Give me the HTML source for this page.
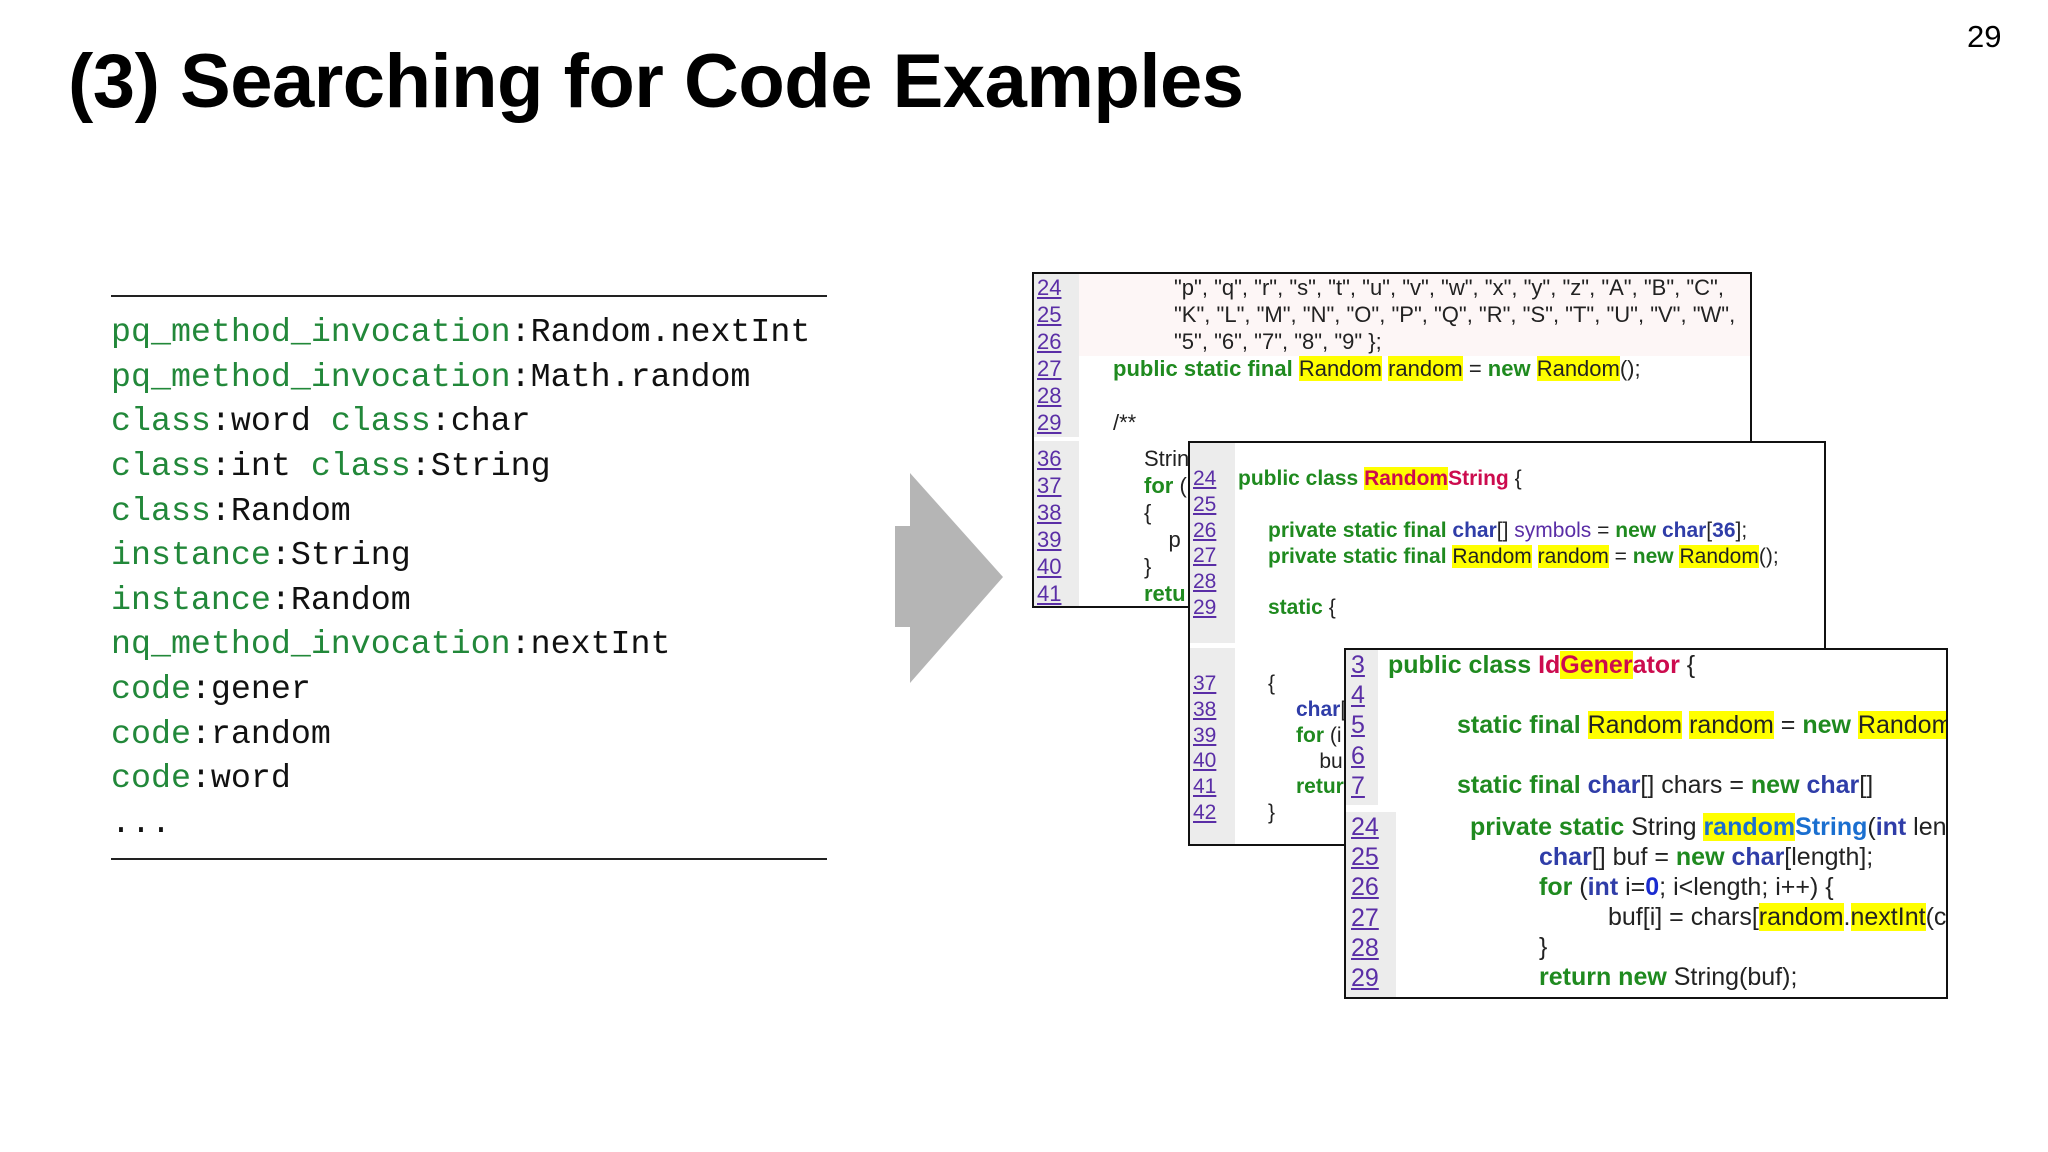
<!DOCTYPE html>
<html><head><meta charset="utf-8"><style>
*{margin:0;padding:0;box-sizing:border-box}
body{width:2048px;height:1152px;background:#fff;position:relative;overflow:hidden;font-family:"Liberation Sans",sans-serif}
.a{position:absolute;white-space:pre}
.title{left:68px;top:32px;font-size:76px;font-weight:bold;line-height:100px;color:#000;letter-spacing:-0.5px}
.pn{left:1967px;top:17px;font-size:31px;line-height:40px}
.hr{position:absolute;left:111px;width:716px;height:2px;background:#222}
.q{position:absolute;left:111px;font-family:"Liberation Mono",monospace;font-size:33.3px;line-height:44px;color:#111;white-space:pre}
.q b{font-weight:normal;color:#22883a}
.box{position:absolute;border:2px solid #111;background:#fff;overflow:hidden}
.gut{position:absolute;left:0;top:0;background:#ececec}
.ln{position:absolute;color:#5a2ea6;text-decoration:underline;white-space:pre}
.c{position:absolute;white-space:pre;color:#222}
.k{color:#1f8a1f;font-weight:bold}
.t{color:#2f3da8;font-weight:bold}
.h{background:#ffff00}
.r{color:#cc0b4e;font-weight:bold}
</style></head><body>
<div class="a title">(3) Searching for Code Examples</div>
<div class="a pn">29</div>

<div class="hr" style="top:295px"></div>
<div class="hr" style="top:858px"></div>
<div class="q" style="top:310px"><b>pq_method_invocation</b>:Random.nextInt</div>
<div class="q" style="top:355px"><b>pq_method_invocation</b>:Math.random</div>
<div class="q" style="top:399px"><b>class</b>:word <b>class</b>:char</div>
<div class="q" style="top:444px"><b>class</b>:int <b>class</b>:String</div>
<div class="q" style="top:489px"><b>class</b>:Random</div>
<div class="q" style="top:533px"><b>instance</b>:String</div>
<div class="q" style="top:578px"><b>instance</b>:Random</div>
<div class="q" style="top:622px"><b>nq_method_invocation</b>:nextInt</div>
<div class="q" style="top:667px"><b>code</b>:gener</div>
<div class="q" style="top:712px"><b>code</b>:random</div>
<div class="q" style="top:756px"><b>code</b>:word</div>
<div class="q" style="top:801px">...</div>

<svg style="position:absolute;left:0;top:0" width="2048" height="1152">
<rect x="895" y="526" width="22" height="101" fill="#b5b5b5"/>
<polygon points="910,473 1003,577 910,683" fill="#b5b5b5"/>
</svg>

<!-- Box 1 -->
<div class="box" style="left:1032px;top:272px;width:720px;height:336px;font-size:22px;line-height:27px">
 <div class="gut" style="width:45px;height:332px"></div>
 <div style="position:absolute;left:45px;top:0;width:675px;height:82px;background:#fdf6f6"></div>
 <div style="position:absolute;left:0;top:163px;width:720px;height:4px;background:#fff"></div>
 <div class="ln" style="left:3px;top:0px">24
25
26
27
28
29</div>
 <div class="ln" style="left:3px;top:171px">36
37
38
39
40
41</div>
 <div class="c" style="left:140px;top:0px">"p", "q", "r", "s", "t", "u", "v", "w", "x", "y", "z", "A", "B", "C",
"K", "L", "M", "N", "O", "P", "Q", "R", "S", "T", "U", "V", "W",
"5", "6", "7", "8", "9" };</div>
 <div class="c" style="left:79px;top:81px"><span class="k">public static final</span> <span class="h">Random</span> <span class="h">random</span> = <span class="k">new</span> <span class="h">Random</span>();</div>
 <div class="c" style="left:79px;top:135px">/**</div>
 <div class="c" style="left:110px;top:171px">Strin
<span class="k">for</span> (
{
    p
}
<span class="k">retu</span></div>
</div>

<!-- Box 2 -->
<div class="box" style="left:1188px;top:441px;width:638px;height:405px;font-size:21px;line-height:25.8px">
 <div class="gut" style="width:45px;height:200px"></div>
 <div class="gut" style="top:205px;width:45px;height:200px"></div>
 <div class="ln" style="left:3px;top:23px">24
25
26
27
28
29</div>
 <div class="ln" style="left:3px;top:228px">37
38
39
40
41
42</div>
 <div class="c" style="left:48px;top:23px"><span class="k">public class</span> <span class="r h">Random</span><span class="r">String</span> {</div>
 <div class="c" style="left:78px;top:75px"><span class="k">private static final</span> <span class="t">char</span>[] <span style="color:#5a2ea6">symbols</span> = <span class="k">new</span> <span class="t">char</span>[<span class="t">36</span>];
<span class="k">private static final</span> <span class="h">Random</span> <span class="h">random</span> = <span class="k">new</span> <span class="h">Random</span>();</div>
 <div class="c" style="left:78px;top:152px"><span class="k">static</span> {</div>
 <div class="c" style="left:78px;top:228px">{</div>
 <div class="c" style="left:106px;top:254px"><span class="t">char</span>[
<span class="k">for</span> (i
    bu
<span class="k">retur</span></div>
 <div class="c" style="left:78px;top:357px">}</div>
</div>

<!-- Box 3 -->
<div class="box" style="left:1344px;top:648px;width:604px;height:351px;font-size:25px;line-height:30.2px">
 <div class="gut" style="width:32px;height:155px"></div>
 <div class="gut" style="top:162px;width:50px;height:189px"></div>
 <div class="ln" style="left:5px;top:0px">3
4
5
6
7</div>
 <div class="ln" style="left:5px;top:162px">24
25
26
27
28
29</div>
 <div class="c" style="left:42px;top:0px"><span class="k">public class</span> <span class="r">Id</span><span class="r h">Gener</span><span class="r">ator</span> {</div>
 <div class="c" style="left:111px;top:60px"><span class="k">static final</span> <span class="h">Random</span> <span class="h">random</span> = <span class="k">new</span> <span class="h">Random</span></div>
 <div class="c" style="left:111px;top:120px"><span class="k">static final</span> <span class="t">char</span>[] chars = <span class="k">new</span> <span class="t">char</span>[]</div>
 <div class="c" style="left:124px;top:162px"><span class="k">private static</span> String <span class="h" style="color:#1a6fd0;font-weight:bold">random</span><span style="color:#1a6fd0;font-weight:bold">String</span>(<span class="t">int</span> length)</div>
 <div class="c" style="left:193px;top:192px"><span class="t">char</span>[] buf = <span class="k">new</span> <span class="t">char</span>[length];
<span class="k">for</span> (<span class="t">int</span> i=<span class="t" style="color:#1a2bd0">0</span>; i&lt;length; i++) {</div>
 <div class="c" style="left:262px;top:252px">buf[i] = chars[<span class="h">random</span>.<span class="h">nextInt</span>(chars.length)];</div>
 <div class="c" style="left:193px;top:282px">}
<span class="k">return new</span> String(buf);</div>
</div>
</body></html>
